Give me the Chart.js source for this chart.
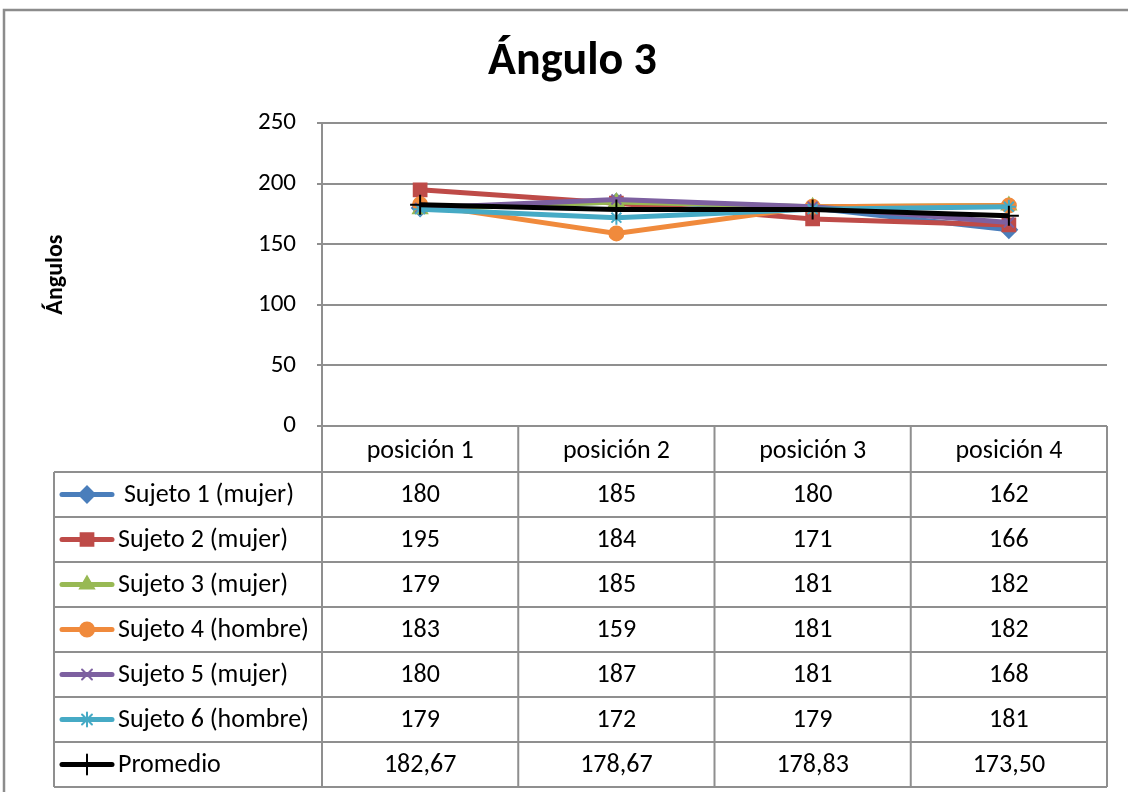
<!DOCTYPE html>
<html>
<head>
<meta charset="utf-8">
<script src="https://cdn.jsdelivr.net/npm/chart.js@4.4.1/dist/chart.umd.min.js"></script>
<style>
    body { margin: 0; background: #fff; }
    #wrap { width: 1128px; height: 792px; position: relative; }
</style>
</head>
<body>
<div id="wrap"><canvas id="angleChart"></canvas></div>
<script>
const FONT = "Carlito, Lato, 'Liberation Sans', sans-serif";

const positions = ["posición 1", "posición 2", "posición 3", "posición 4"];
const seriesNames = [" Sujeto 1 (mujer)", "Sujeto 2 (mujer)", "Sujeto 3 (mujer)", "Sujeto 4 (hombre)", "Sujeto 5 (mujer)", "Sujeto 6 (hombre)", "Promedio"];
const sujeto1 = [180, 185, 180, 162];
const sujeto2 = [195, 184, 171, 166];
const sujeto3 = [179, 185, 181, 182];
const sujeto4 = [183, 159, 181, 182];
const sujeto5 = [180, 187, 181, 168];
const sujeto6 = [179, 172, 179, 181];
const promedio = [182.67, 178.67, 178.83, 173.50];
const yTicks = [0, 50, 100, 150, 200, 250];

const seriesValues = [sujeto1, sujeto2, sujeto3, sujeto4, sujeto5, sujeto6, promedio];
const colors = ["#4A7EBB", "#BE4B48", "#98B954", "#F08A3C", "#7D60A0", "#46AAC5", "#000000"];
const markers = ["rectRot", "rect", "triangle", "circle", "crossRot", "star", "cross"];
const markerSize = [8, 9, 8, 7, 7, 7, 10];

const GRID = "#8f8f8f";

function fmt(v) {
    return Number.isInteger(v) ? String(v) : v.toFixed(2).replace(".", ",");
}

// data table under the plot, like Excel's "show data table with legend keys"
const dataTable = {
    id: "dataTable",
    beforeDraw(chart) {
        const ctx = chart.ctx;
        ctx.save();
        ctx.strokeStyle = "#8c8c8c";
        ctx.lineWidth = 2.5;
        ctx.beginPath();
        ctx.moveTo(4, 800);
        ctx.lineTo(4, 10);
        ctx.lineTo(1140, 10);
        ctx.stroke();
        ctx.restore();
    },
    afterDraw(chart) {
        const ctx = chart.ctx;
        const area = chart.chartArea;
        const x = chart.scales.x;
        const colW = (area.right - area.left) / positions.length;
        const headTop = area.bottom;
        const headH = 46;
        const rowH = 45;
        const keyLeft = 54;
        const bodyTop = headTop + headH;
        const bottom = bodyTop + rowH * seriesNames.length;

        ctx.save();
        ctx.strokeStyle = GRID;
        ctx.lineWidth = 2;
        ctx.beginPath();
        ctx.moveTo(area.left, headTop);
        ctx.lineTo(area.right, headTop);
        for (let r = 0; r <= seriesNames.length; r++) {
            const y = bodyTop + r * rowH;
            ctx.moveTo(keyLeft, y);
            ctx.lineTo(area.right, y);
        }
        ctx.moveTo(keyLeft, bodyTop);
        ctx.lineTo(keyLeft, bottom);
        for (let c = 0; c <= positions.length; c++) {
            const cx = area.left + c * colW;
            ctx.moveTo(cx, headTop);
            ctx.lineTo(cx, bottom);
        }
        ctx.stroke();

        ctx.fillStyle = "#000";
        ctx.font = "26px " + FONT;
        ctx.textAlign = "center";
        ctx.textBaseline = "middle";
        positions.forEach((p, i) => {
            ctx.fillText(p, x.getPixelForValue(i), headTop + headH / 2 + 2);
        });

        seriesNames.forEach((name, r) => {
            const cy = bodyTop + r * rowH + rowH / 2;
            // legend key
            ctx.strokeStyle = colors[r];
            ctx.fillStyle = colors[r];
            ctx.lineWidth = 5;
            ctx.lineCap = "round";
            ctx.beginPath();
            ctx.moveTo(62, cy);
            ctx.lineTo(112, cy);
            ctx.stroke();
            ctx.lineWidth = 2;
            Chart.helpers.drawPoint(ctx, {
                pointStyle: markers[r],
                radius: markerSize[r],
                rotation: 0,
                borderWidth: 2
            }, 87, cy);

            ctx.fillStyle = "#000";
            ctx.textAlign = "left";
            ctx.fillText(name, 118, cy + 1);
            ctx.textAlign = "center";
            seriesValues[r].forEach((v, i) => {
                ctx.fillText(fmt(v), x.getPixelForValue(i), cy + 1);
            });
        });
        ctx.restore();
    }
};

new Chart(document.getElementById("angleChart"), {
    type: "line",
    data: {
        labels: positions,
        datasets: seriesValues.map((vals, i) => ({
            label: seriesNames[i].trim(),
            data: vals,
            borderColor: colors[i],
            backgroundColor: colors[i],
            borderWidth: 5,
            pointStyle: markers[i],
            pointRadius: markerSize[i],
            pointBorderWidth: 2,
            pointBorderColor: colors[i],
            pointBackgroundColor: colors[i],
            tension: 0,
            fill: false,
            order: seriesValues.length - i
        }))
    },
    options: {
        responsive: true,
        maintainAspectRatio: false,
        animation: false,
        layout: { padding: { left: 38, right: 21, top: 0, bottom: 366 } },
        plugins: {
            legend: { display: false },
            tooltip: { enabled: false },
            title: {
                display: true,
                text: "Ángulo 3",
                color: "#000",
                font: { family: FONT, size: 46, weight: "900" },
                padding: { top: 35, bottom: 33 }
            }
        },
        scales: {
            x: { display: false, offset: true },
            y: {
                min: 0,
                max: 250,
                afterBuildTicks: s => { s.ticks = yTicks.map(v => ({ value: v })); },
                afterFit: s => { s.width = 284; },
                ticks: { color: "#000", padding: 21, font: { family: FONT, size: 25 } },
                grid: { color: GRID, lineWidth: 2, tickLength: 5, drawTicks: true },
                border: { display: true, color: GRID, width: 2 },
                title: {
                    display: true,
                    text: "Ángulos",
                    color: "#000",
                    font: { family: FONT, size: 24, weight: "bold" },
                    padding: { top: 4, bottom: 0 }
                }
            }
        }
    },
    plugins: [dataTable]
});
</script>
</body>
</html>
